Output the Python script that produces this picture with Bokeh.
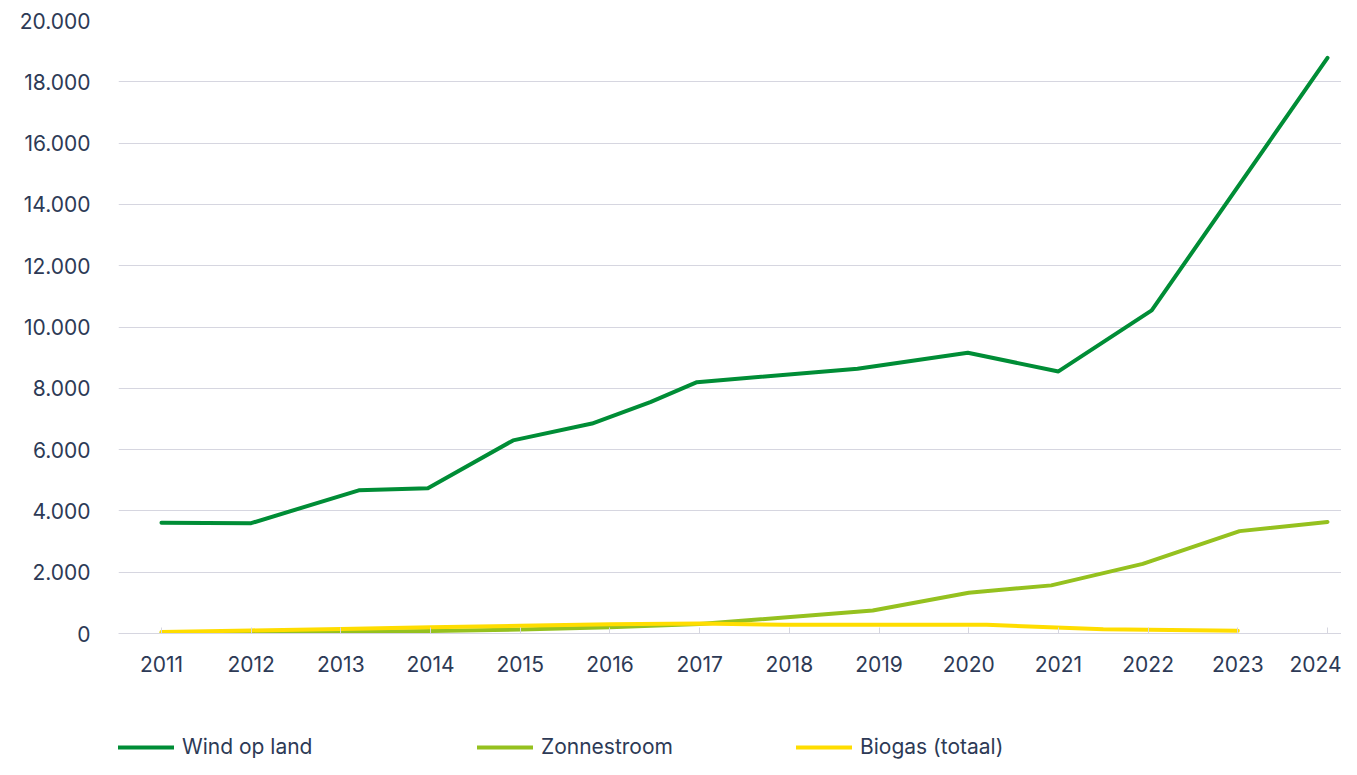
from bokeh.plotting import figure
from bokeh.models import Range1d, FixedTicker, Legend, LegendItem
from bokeh.layouts import column
from bokeh.embed import file_html
from bokeh.resources import INLINE

# ---- data ----
years = list(range(2011, 2025))
y_ticks = [0, 2000, 4000, 6000, 8000, 10000, 12000, 14000, 16000, 18000, 20000]

wind_x = [2011.0, 2012.0, 2013.2, 2013.97, 2014.92, 2015.8, 2016.45, 2016.97, 2018.76, 2019.99, 2021.0, 2022.04, 2024.0]
wind_y = [3610, 3600, 4670, 4740, 6300, 6850, 7550, 8200, 8640, 9160, 8550, 10540, 18780]

zon_x = [2011, 2012, 2013, 2014, 2015, 2016, 2017, 2018.93, 2020.0, 2020.92, 2021.94, 2023.02, 2024.0]
zon_y = [20, 30, 50, 80, 130, 200, 310, 750, 1330, 1570, 2270, 3340, 3640]

bio_x = [2011, 2012, 2013, 2014, 2015, 2016, 2017, 2017.95, 2020.2, 2021.5, 2023.0]
bio_y = [50, 100, 150, 200, 250, 300, 330, 285, 285, 140, 90]

series_names = ["Wind op land", "Zonnestroom", "Biogas (totaal)"]
series_colors = ["#008d36", "#95c11f", "#ffdd00"]

FONT = "Inter"
TXT = "#2d3a56"
GRID = "#d6d6e0"
FS = "21px"
W = 1341

p = figure(width=W, height=690, output_backend="svg", toolbar_location=None,
           x_range=Range1d(2010.521, 2024.156), y_range=Range1d(0, 20000),
           min_border_left=118, min_border_right=0, min_border_top=20, min_border_bottom=57)
p.outline_line_color = None
p.background_fill_color = "white"
p.border_fill_color = "white"

# axes
p.xaxis.ticker = FixedTicker(ticks=years)
p.xaxis.major_label_overrides = {y: str(y) for y in years}
p.xaxis.axis_line_color = GRID
p.xaxis.major_tick_line_color = GRID
p.xaxis.major_tick_in = 6
p.xaxis.major_tick_out = 0
p.xaxis.minor_tick_line_color = None
p.xaxis.major_label_standoff = 22

p.yaxis.ticker = FixedTicker(ticks=y_ticks)
p.yaxis.major_label_overrides = {t: f"{t:,}".replace(",", ".") for t in y_ticks}
p.yaxis.axis_line_color = None
p.yaxis.major_tick_line_color = None
p.yaxis.minor_tick_line_color = None
p.yaxis.major_label_standoff = 22

for ax in (p.xaxis, p.yaxis):
    ax.major_label_text_font = FONT
    ax.major_label_text_font_size = FS
    ax.major_label_text_color = TXT

p.xgrid.grid_line_color = None
p.ygrid.grid_line_color = GRID
p.ygrid.grid_line_width = 1

# lines
p.line(wind_x, wind_y, line_color=series_colors[0], line_width=4, line_join="round", line_cap="round")
p.line(zon_x, zon_y, line_color=series_colors[1], line_width=4, line_join="round", line_cap="round")
p.line(bio_x, bio_y, line_color=series_colors[2], line_width=4, line_join="round", line_cap="round")

# legend strip below the chart (its frame is aligned with the chart frame)
lg_fig = figure(width=W, height=69, output_backend="svg", toolbar_location=None,
                x_range=Range1d(0, 1), y_range=Range1d(0, 1),
                min_border_left=118, min_border_right=0, min_border_top=0, min_border_bottom=0)
lg_fig.axis.visible = False
lg_fig.grid.visible = False
lg_fig.outline_line_color = None
lg_fig.border_fill_color = "white"

leg_x = [0, 359, 678]
for name, col, lx in zip(series_names, series_colors, leg_x):
    r = lg_fig.line(x=[-5, -4], y=[-5, -5], line_color=col, line_width=4, line_cap="round")
    lg = Legend(items=[LegendItem(label=name, renderers=[r])], location=(lx, 0),
                orientation="horizontal", glyph_width=56, glyph_height=20, label_height=20,
                label_standoff=8, padding=0, margin=0, spacing=0,
                border_line_color=None, background_fill_alpha=0,
                label_text_font=FONT, label_text_font_size=FS, label_text_color=TXT)
    lg_fig.add_layout(lg, "center")

layout = column(p, lg_fig, spacing=0)
open("out.html", "w").write(file_html(layout, INLINE))
